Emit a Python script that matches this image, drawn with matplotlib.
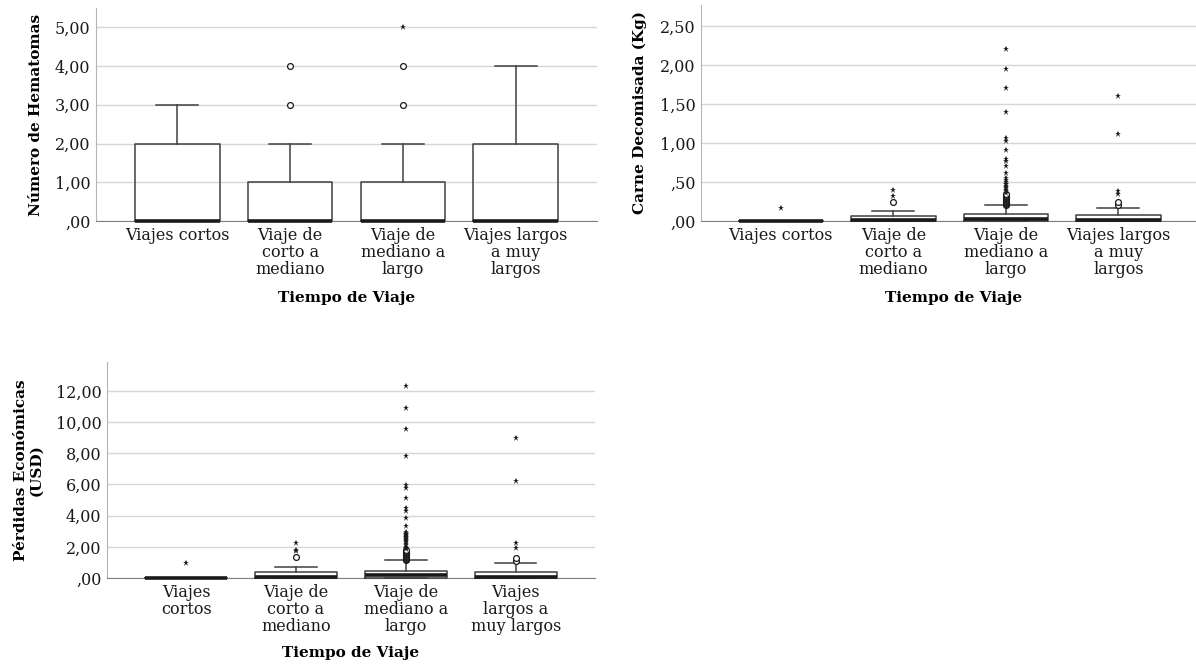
import matplotlib
matplotlib.use("Agg")
import matplotlib.pyplot as plt
from matplotlib.ticker import FixedLocator, FuncFormatter

plt.rcParams['font.family'] = ['DejaVu Serif']

# ---------------- data ----------------
cats_top = ["Viajes cortos", "Viaje de\ncorto a\nmediano",
            "Viaje de\nmediano a\nlargo", "Viajes largos\na muy\nlargos"]
cats_bottom = ["Viajes\ncortos", "Viaje de\ncorto a\nmediano",
               "Viaje de\nmediano a\nlargo", "Viajes\nlargos a\nmuy largos"]

# Número de Hematomas
hem_q1 = [0, 0, 0, 0]
hem_med = [0, 0, 0, 0]
hem_q3 = [2, 1, 1, 2]
hem_lo = [0, 0, 0, 0]
hem_hi = [3, 2, 2, 4]
hem_circles = [[], [3, 4], [3, 4], []]
hem_stars = [[], [], [5], []]
hem_ticks = [0, 1, 2, 3, 4, 5]

# Carne Decomisada (Kg)
carne_q1 = [0, 0, 0, 0]
carne_med = [0, 0.01, 0.03, 0.01]
carne_q3 = [0, 0.07, 0.088, 0.075]
carne_lo = [0, 0, 0, 0]
carne_hi = [0, 0.13, 0.205, 0.165]
carne_circles = [[], [0.25],
                 [0.21, 0.22, 0.23, 0.24, 0.25, 0.26, 0.27, 0.28, 0.29, 0.30,
                  0.31, 0.32, 0.33, 0.34],
                 [0.21, 0.24]]
carne_stars = [[0.17], [0.32, 0.40],
               [0.36, 0.38, 0.40, 0.42, 0.43, 0.45, 0.47, 0.48, 0.50, 0.52,
                0.55, 0.62, 0.70, 0.77, 0.80, 0.91, 1.02, 1.06, 1.40, 1.70,
                1.95, 2.20],
               [0.34, 0.39, 1.11, 1.60]]
carne_ticks = [0, 0.5, 1.0, 1.5, 2.0, 2.5]

# Pérdidas Económicas (USD)
perd_q1 = [0, 0, 0, 0]
perd_med = [0, 0.07, 0.17, 0.05]
perd_q3 = [0, 0.38, 0.48, 0.40]
perd_lo = [0, 0, 0, 0]
perd_hi = [0, 0.73, 1.15, 0.94]
perd_circles = [[], [1.37],
                [1.17, 1.20, 1.25, 1.30, 1.35, 1.40, 1.45, 1.50, 1.55, 1.60,
                 1.65, 1.70, 1.75, 1.80],
                [1.12, 1.27]]
perd_stars = [[0.98], [1.72, 1.82, 2.27],
              [1.85, 1.90, 1.95, 2.00, 2.10, 2.20, 2.30, 2.40, 2.45, 2.50,
               2.55, 2.60, 2.65, 2.70, 2.75, 2.80, 2.85, 2.90, 2.95, 3.36,
               3.87, 4.32, 4.51, 5.11, 5.75, 5.95, 7.85, 9.54, 10.93, 12.34],
              [1.95, 2.25, 6.22, 8.98]]
perd_ticks = [0, 2, 4, 6, 8, 10, 12]


def fmt(v, pos):
    s = f"{v:.2f}".replace('.', ',')
    if s.startswith('0,'):
        s = s[1:]
    return s


def draw(ax, q1, med, q3, lo, hi, circles, stars, ticks, cats, ylim, xlim,
         ylabel, ylab_x, xlab_xy):
    stats = []
    for i in range(len(q1)):
        stats.append(dict(q1=q1[i], med=med[i], q3=q3[i], whislo=lo[i],
                          whishi=hi[i], fliers=[]))
    pos = list(range(len(q1)))
    art = ax.bxp(stats, positions=pos, widths=0.75, showfliers=False,
                 manage_ticks=False,
                 boxprops=dict(color='#404040', linewidth=1.1),
                 whiskerprops=dict(color='#404040', linewidth=1.1),
                 capprops=dict(color='#404040', linewidth=1.1),
                 medianprops=dict(color='#1a1a1a', linewidth=2.6))
    for k in art:
        for a in art[k]:
            a.set_clip_on(False)
            a.set_zorder(3)
    for i in pos:
        if circles[i]:
            ax.plot([i] * len(circles[i]), circles[i], ls='none', marker='o',
                    mfc='white', mec='#1a1a1a', ms=4.2, mew=0.9, zorder=4,
                    clip_on=False)
        if stars[i]:
            ax.plot([i] * len(stars[i]), stars[i], ls='none', marker='*',
                    color='#1a1a1a', ms=5, mew=0, zorder=4, clip_on=False)
    ax.set_xlim(*xlim)
    ax.set_ylim(*ylim)
    ax.set_xticks(pos)
    ax.set_xticklabels(cats, linespacing=1.0)
    ax.yaxis.set_major_locator(FixedLocator(ticks))
    ax.yaxis.set_major_formatter(FuncFormatter(fmt))
    ax.yaxis.grid(True, color='#d6d6d6', linewidth=1.0)
    ax.set_axisbelow(True)
    for s in ['top', 'right']:
        ax.spines[s].set_visible(False)
    ax.spines['left'].set_color('#b5b5b5')
    ax.spines['bottom'].set_color('#808080')
    ax.spines['bottom'].set_zorder(2.5)
    ax.tick_params(axis='both', length=0, labelsize=11.5, colors='#1a1a1a')
    ax.tick_params(axis='x', pad=4)
    ax.tick_params(axis='y', pad=4)
    ax.set_ylabel(ylabel, fontsize=11, fontweight='bold', va='center',
                  ha='center', linespacing=1.1)
    ax.yaxis.set_label_coords(ylab_x, 0.5)
    ax.set_xlabel("Tiempo de Viaje", fontsize=11, fontweight='bold',
                  va='center', ha='center')
    ax.xaxis.set_label_coords(*xlab_xy)


W, H = 1196, 666
fig = plt.figure(figsize=(W / 100, H / 100), dpi=100)

ax1 = fig.add_axes([96 / W, 1 - 221 / H, 501 / W, 213 / H])
draw(ax1, hem_q1, hem_med, hem_q3, hem_lo, hem_hi, hem_circles, hem_stars,
     hem_ticks, cats_top, (0, 5.5), (-0.72, 3.72), "Número de Hematomas",
     -0.12, (0.5, -0.3615))

ax2 = fig.add_axes([701 / W, 1 - 221 / H, 495 / W, 216 / H])
draw(ax2, carne_q1, carne_med, carne_q3, carne_lo, carne_hi, carne_circles,
     carne_stars, carne_ticks, cats_top, (0, 2.77), (-0.71, 3.69),
     "Carne Decomisada (Kg)", -0.123, (0.511, -0.356))

ax3 = fig.add_axes([107 / W, 1 - 578 / H, 488 / W, 216 / H])
draw(ax3, perd_q1, perd_med, perd_q3, perd_lo, perd_hi, perd_circles,
     perd_stars, perd_ticks, cats_bottom, (0, 13.86), (-0.72, 3.72),
     "Pérdidas Económicas\n(USD)", -0.16, (0.5, -0.347))

fig.savefig("out.png", dpi=100, facecolor='white')
